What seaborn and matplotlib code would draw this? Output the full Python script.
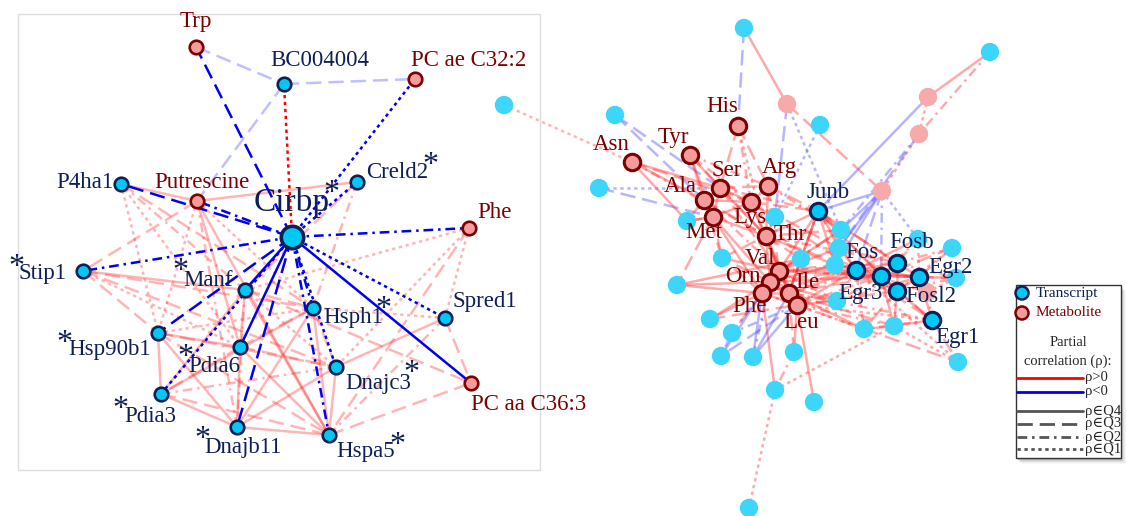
import matplotlib
matplotlib.use("Agg")
import matplotlib.pyplot as plt
import pandas as pd
import seaborn as sns
from matplotlib.patches import Rectangle, Circle

sns.set_theme(style="white")
plt.rcParams["font.family"] = ["Liberation Serif", "DejaVu Serif"]
plt.rcParams["lines.scale_dashes"] = False

# ---------------------------------------------------------------- nodes
# kind: T = transcript, M = metabolite ; lab = drawn with outline + name
node_name = [
    # Cirbp sub-network
    "Cirbp", "Trp", "BC004004", "PC ae C32:2", "P4ha1", "Putrescine", "Creld2",
    "Phe_L", "Stip1", "Manf", "Hsph1", "Spred1", "Hsp90b1", "Pdia6", "Dnajc3",
    "PC aa C36:3", "Pdia3", "Dnajb11", "Hspa5",
    # immediate-early gene / amino-acid sub-network
    "His", "Asn", "Tyr", "Ser", "Arg", "Ala", "Lys", "Met", "Thr", "Val", "Orn",
    "Ile", "Phe", "Leu", "Junb", "Fos", "Fosb", "Egr2", "Egr3", "Fosl2", "Egr1",
    "t1", "t2", "t3", "t4", "t5", "t6", "t7", "t8", "t9", "t10", "t11", "t12",
    "t13", "t14", "t15", "t16", "t17", "t18", "t19", "t20", "t21", "t22", "t23",
    "t24", "t25", "t26", "t27", "t28", "t29",
    "m1", "m2", "m3", "m4", "m5",
]
node_kind = (
    ["T", "M", "T", "M", "T", "M", "T", "M", "T", "T", "T", "T", "T", "T", "T",
     "M", "T", "T", "T"]
    + ["M"] * 14 + ["T"] * 7 + ["T"] * 29 + ["M"] * 5
)
node_lab = [True] * 40 + [False] * 34
layout_x = [
    292, 196, 284, 415, 121, 197, 357, 469, 83, 245, 313, 445, 158, 240, 336,
    471, 161, 237, 329,
    738, 632, 690, 720, 768, 704, 751, 713, 766, 779, 770, 789, 762, 797, 818,
    856, 897, 919, 881, 897, 932,
    744, 990, 504, 615, 820, 599, 687, 775, 841, 839, 918, 952, 722, 801, 835,
    956, 677, 837, 710, 732, 864, 894, 721, 753, 794, 958, 775, 814, 749,
    787, 928, 919, 882, 927,
]
layout_y = [
    237, 47, 84, 79, 184, 201, 182, 228, 271, 290, 308, 318, 333, 347, 367,
    383, 394, 427, 435,
    126, 162, 155, 188, 186, 200, 202, 217, 236, 271, 282, 293, 293, 305, 211,
    270, 263, 277, 276, 291, 320,
    28, 52, 105, 115, 125, 188, 221, 217, 230, 248, 239, 248, 258, 259, 265,
    278, 285, 301, 319, 333, 329, 326, 356, 357, 352, 362, 390, 402, 508,
    104, 97, 134, 191, 292,
]

# ---------------------------------------------------------------- edges
# sign: +1 / -1 partial correlation ; q: quartile of |rho| ; bold: highlighted
edge_src, edge_dst, edge_sign, edge_q, edge_bold = [], [], [], [], []


def add_edges(rows, bold=False):
    for s, d, sg, q in rows:
        edge_src.append(s)
        edge_dst.append(d)
        edge_sign.append(sg)
        edge_q.append(q)
        edge_bold.append(bold)


cirbp_edges = [
    ("Cirbp", "Trp", -1, 3), ("Cirbp", "BC004004", 1, 1),
    ("Cirbp", "PC ae C32:2", -1, 1), ("Cirbp", "Creld2", -1, 1),
    ("Cirbp", "Phe_L", -1, 2), ("Cirbp", "P4ha1", -1, 3),
    ("Cirbp", "Putrescine", -1, 2), ("Cirbp", "Stip1", -1, 2),
    ("Cirbp", "Manf", -1, 4), ("Cirbp", "Hsp90b1", -1, 3),
    ("Cirbp", "Pdia6", -1, 4), ("Cirbp", "Dnajb11", -1, 3),
    ("Cirbp", "Pdia3", -1, 1), ("Cirbp", "Hsph1", -1, 2),
    ("Cirbp", "Hspa5", -1, 2), ("Cirbp", "Dnajc3", -1, 1),
    ("Cirbp", "Spred1", -1, 1), ("Cirbp", "PC aa C36:3", -1, 4),
]
left_edges = [
    ("Trp", "BC004004", -1, 3), ("BC004004", "PC ae C32:2", -1, 3),
    ("BC004004", "Putrescine", -1, 3), ("Putrescine", "Creld2", 1, 4),
    ("P4ha1", "Putrescine", 1, 4), ("P4ha1", "Hsph1", 1, 3),
    ("P4ha1", "Pdia6", 1, 1), ("P4ha1", "Hsp90b1", 1, 1), ("P4ha1", "Manf", 1, 2),
    ("Putrescine", "Stip1", 1, 3), ("Putrescine", "Pdia6", 1, 4),
    ("Putrescine", "Hsp90b1", 1, 1), ("Putrescine", "Dnajb11", 1, 2),
    ("Putrescine", "Hspa5", 1, 4), ("Putrescine", "Hsph1", 1, 1),
    ("Creld2", "Manf", 1, 3), ("Creld2", "Hsph1", 1, 2),
    ("Phe_L", "Spred1", 1, 1), ("Phe_L", "Hspa5", 1, 3), ("Phe_L", "Dnajc3", 1, 1),
    ("Phe_L", "Manf", 1, 1),
    ("Stip1", "Hsp90b1", 1, 3), ("Stip1", "Hsph1", 1, 3), ("Stip1", "Manf", 1, 4),
    ("Stip1", "Dnajc3", 1, 3), ("Stip1", "Pdia6", 1, 1),
    ("Manf", "Pdia6", 1, 4), ("Manf", "Hsph1", 1, 3), ("Manf", "Hspa5", 1, 4),
    ("Manf", "Dnajb11", 1, 2), ("Manf", "Dnajc3", 1, 1), ("Manf", "PC aa C36:3", 1, 3),
    ("Manf", "Pdia3", 1, 4),
    ("Hsp90b1", "Pdia6", 1, 4), ("Hsp90b1", "Pdia3", 1, 4),
    ("Hsp90b1", "Dnajb11", 1, 4), ("Hsp90b1", "Hspa5", 1, 3),
    ("Hsp90b1", "Dnajc3", 1, 3), ("Hsp90b1", "Hsph1", 1, 1),
    ("Pdia6", "Dnajb11", 1, 4), ("Pdia6", "Hspa5", 1, 4), ("Pdia6", "Dnajc3", 1, 3),
    ("Pdia6", "Hsph1", 1, 3), ("Pdia6", "Pdia3", 1, 3),
    ("Pdia3", "Dnajb11", 1, 4), ("Pdia3", "Hspa5", 1, 3), ("Pdia3", "Dnajc3", 1, 2),
    ("Pdia3", "Hsph1", 1, 4),
    ("Dnajb11", "Hspa5", 1, 4), ("Dnajb11", "Dnajc3", 1, 4), ("Dnajb11", "Hsph1", 1, 4),
    ("Hspa5", "Dnajc3", 1, 4), ("Hspa5", "Spred1", 1, 2),
    ("Hspa5", "PC aa C36:3", 1, 3), ("Hspa5", "Hsph1", 1, 4),
    ("Dnajc3", "Spred1", 1, 4), ("Dnajc3", "Hsph1", 1, 3),
    ("Spred1", "PC aa C36:3", 1, 3), ("Spred1", "Hsph1", 1, 1),
]
right_edges = [
    ("t1", "His", -1, 3), ("t1", "m1", 1, 4), ("m1", "m4", 1, 3),
    ("m1", "t8", -1, 3), ("m1", "t9", -1, 1), ("t5", "t8", -1, 1),
    ("t2", "m2", 1, 4), ("t2", "m3", 1, 2), ("m2", "m3", 1, 1),
    ("m2", "Junb", -1, 4), ("m3", "m4", 1, 1), ("m3", "t9", -1, 2),
    ("m3", "t10", -1, 3), ("m4", "Junb", -1, 4), ("m4", "t9", -1, 4),
    ("m4", "t10", -1, 4), ("m4", "t15", -1, 4), ("m4", "Fos", -1, 3),
    ("m4", "t11", -1, 1), ("m4", "Egr3", -1, 2),
    ("t3", "Asn", 1, 1), ("t4", "Ala", -1, 3), ("t4", "Ser", -1, 3),
    ("t6", "Ser", -1, 1), ("t6", "Met", -1, 3),
    ("His", "Arg", 1, 3), ("His", "Ser", 1, 3), ("His", "Thr", 1, 1),
    ("His", "Lys", 1, 2),
    ("Asn", "t7", 1, 4), ("Asn", "Ser", 1, 4), ("Asn", "Ala", 1, 4),
    ("Asn", "Lys", 1, 3), ("Asn", "Thr", 1, 2),
    ("Tyr", "Ala", 1, 4), ("Tyr", "Ser", 1, 4), ("Tyr", "Met", 1, 4),
    ("Tyr", "Lys", 1, 3), ("Tyr", "Arg", 1, 2), ("Tyr", "Thr", 1, 3),
    ("Ser", "Ala", 1, 4), ("Ser", "Lys", 1, 4), ("Ser", "Arg", 1, 3),
    ("Ser", "Thr", 1, 4), ("Ser", "Met", 1, 4), ("Ser", "Val", 1, 3),
    ("Ser", "Junb", 1, 2), ("Ser", "t8", 1, 3),
    ("Arg", "Lys", 1, 4), ("Arg", "Thr", 1, 4), ("Arg", "Junb", 1, 3),
    ("Arg", "t9", 1, 2), ("Arg", "Val", 1, 3),
    ("Ala", "Met", 1, 4), ("Ala", "Lys", 1, 4), ("Ala", "Thr", 1, 3),
    ("Ala", "Val", 1, 2), ("Ala", "t13", 1, 3),
    ("Lys", "Thr", 1, 4), ("Lys", "Met", 1, 4), ("Lys", "Val", 1, 4),
    ("Lys", "Junb", 1, 3), ("Lys", "t14", 1, 2), ("Lys", "Fos", 1, 3),
    ("Met", "Thr", 1, 4), ("Met", "t13", 1, 3), ("Met", "t17", 1, 3),
    ("Met", "Orn", 1, 4), ("Met", "Phe", 1, 4), ("Met", "t7", 1, 4),
    ("Thr", "Val", 1, 4), ("Thr", "Orn", 1, 4), ("Thr", "Ile", 1, 4),
    ("Thr", "Junb", 1, 4), ("Thr", "t8", 1, 4), ("Thr", "t14", 1, 3),
    ("Thr", "Fos", 1, 3), ("Thr", "Leu", 1, 4),
    ("Val", "Orn", 1, 4), ("Val", "Ile", 1, 4), ("Val", "Phe", 1, 4),
    ("Val", "Leu", 1, 4), ("Val", "Junb", 1, 4), ("Val", "Fos", 1, 4),
    ("Val", "t14", 1, 4), ("Val", "t15", 1, 3), ("Val", "Egr3", 1, 3),
    ("Val", "t9", 1, 3),
    ("Orn", "Ile", 1, 4), ("Orn", "Phe", 1, 4), ("Orn", "Leu", 1, 4),
    ("Orn", "t17", 1, 4), ("Orn", "t13", 1, 3), ("Orn", "Fos", 1, 3),
    ("Orn", "t19", 1, 4),
    ("Ile", "Phe", 1, 4), ("Ile", "Leu", 1, 4), ("Ile", "Fos", 1, 4),
    ("Ile", "Egr3", 1, 3), ("Ile", "t18", 1, 3), ("Ile", "t14", 1, 3),
    ("Ile", "t25", 1, 3), ("Ile", "Junb", 1, 4), ("Ile", "Fosb", 1, 2),
    ("Phe", "Leu", 1, 4), ("Phe", "t19", 1, 4), ("Phe", "t20", 1, 3),
    ("Phe", "t27", 1, 4), ("Phe", "t23", -1, 4), ("Phe", "t24", -1, 4),
    ("Phe", "t17", 1, 4), ("Phe", "t13", 1, 3),
    ("Leu", "t25", 1, 4), ("Leu", "t28", 1, 4), ("Leu", "t18", 1, 4),
    ("Leu", "t21", 1, 3), ("Leu", "Fos", 1, 4), ("Leu", "Egr3", 1, 3),
    ("Leu", "t24", -1, 4), ("Leu", "t20", -1, 2), ("Leu", "t23", -1, 3),
    ("Ile", "t24", -1, 4), ("Orn", "t24", -1, 2),
    ("t20", "t23", -1, 3), ("t20", "Orn", -1, 2),
    ("Junb", "Fos", 1, 4), ("Junb", "Egr3", 1, 4), ("Junb", "Fosb", 1, 4),
    ("Junb", "t9", 1, 4), ("Junb", "t10", 1, 3), ("Junb", "t15", 1, 4),
    ("Junb", "Egr2", 1, 3), ("Junb", "Fosl2", 1, 3), ("Junb", "t14", 1, 4),
    ("Fos", "Egr3", 1, 4), ("Fos", "Fosb", 1, 4), ("Fos", "Egr2", 1, 4),
    ("Fos", "Fosl2", 1, 4), ("Fos", "Egr1", 1, 3), ("Fos", "t15", 1, 4),
    ("Fos", "t10", 1, 4), ("Fos", "t18", 1, 3), ("Fos", "t21", 1, 3),
    ("Egr3", "Fosb", 1, 4), ("Egr3", "Egr2", 1, 4), ("Egr3", "Fosl2", 1, 4),
    ("Egr3", "Egr1", 1, 3), ("Egr3", "t11", 1, 2), ("Egr3", "t18", 1, 3),
    ("Egr3", "t22", 1, 4),
    ("Fosb", "Egr2", 1, 4), ("Fosb", "Fosl2", 1, 4), ("Fosb", "t11", 1, 3),
    ("Fosb", "t12", 1, 2), ("Fosb", "t16", 1, 2),
    ("Egr2", "Fosl2", 1, 4), ("Egr2", "t16", 1, 4), ("Egr2", "t12", 1, 3),
    ("Egr2", "Egr1", 1, 3), ("Egr2", "t11", 1, 1),
    ("Fosl2", "Egr1", 1, 4), ("Fosl2", "t22", 1, 4), ("Fosl2", "t21", 1, 3),
    ("Fosl2", "t16", 1, 2),
    ("Egr1", "t22", 1, 4), ("Egr1", "t26", 1, 3), ("Egr1", "t21", 1, 2),
    ("t22", "t26", 1, 1), ("t21", "t22", 1, 4), ("t21", "t26", 1, 3),
    ("t27", "t29", 1, 1), ("t27", "t22", 1, 1), ("t25", "t27", 1, 2),
    ("t17", "t14", 1, 4), ("t13", "Thr", 1, 3), ("t13", "Val", 1, 4),
    ("t19", "Leu", 1, 3), ("t7", "Ala", 1, 4), ("t7", "Met", 1, 3),
    ("Egr1", "Leu", 1, 1), ("Egr1", "Ile", 1, 2), ("t22", "Ile", 1, 3),
    ("t21", "Phe", 1, 1), ("Fosl2", "Leu", 1, 3), ("Egr2", "Val", 1, 3),
    ("Fosb", "Thr", 1, 2), ("Egr3", "Orn", 1, 4), ("Fos", "Phe", 1, 3),
    ("Fosb", "Val", 1, 3), ("t15", "Orn", 1, 4), ("t10", "Val", 1, 4),
    ("t9", "Thr", 1, 3), ("t14", "Ile", 1, 4), ("t12", "Egr3", 1, 3),
    ("t26", "Fos", 1, 1), ("t16", "Egr3", 1, 3), ("t18", "Orn", 1, 4),
    ("m5", "Fos", 1, 3), ("m5", "Egr1", 1, 2), ("m5", "t16", 1, 1),
    ("t15", "Thr", 1, 4), ("t10", "Lys", 1, 3), ("t9", "Val", 1, 4),
    ("t18", "Val", 1, 3), ("t14", "Junb", 1, 2), ("t15", "Egr2", 1, 4),
    ("t10", "Fosb", 1, 3), ("t18", "Egr2", 1, 2), ("t21", "Ile", 1, 4),
    ("t22", "Leu", 1, 2), ("t12", "Fosl2", 1, 1), ("t11", "Fos", 1, 4),
]
add_edges(cirbp_edges, bold=True)
add_edges(left_edges)
add_edges(right_edges)

# ---------------------------------------------------------------- labels
label_text = [
    "Trp", "BC004004", "PC ae C32:2", "P4ha1", "Putrescine", "Creld2", "Phe",
    "Stip1", "Manf", "Hsph1", "Spred1", "Hsp90b1", "Pdia6", "Dnajc3",
    "PC aa C36:3", "Pdia3", "Dnajb11", "Hspa5",
    "His", "Asn", "Tyr", "Ser", "Arg", "Ala", "Lys", "Met", "Thr", "Val", "Orn",
    "Ile", "Phe", "Leu", "Junb", "Fos", "Fosb", "Egr2", "Egr3", "Fosl2", "Egr1",
]
label_kind = (["M", "T", "M", "T", "M", "T", "M"] + ["T"] * 7 + ["M"] + ["T"] * 3
              + ["M"] * 14 + ["T"] * 7)
label_x = [196, 320, 469, 85, 202, 366, 494, 43, 208, 353, 485, 110, 214, 378,
           471, 150, 243, 366,
           722, 611, 673, 727, 779, 680, 750, 704, 790, 760, 743, 807, 749, 801,
           828, 862, 912, 950, 860, 931, 957]
label_y = [22, 60, 60, 183, 182, 173, 213, 273, 281, 318, 302, 350, 366, 384,
           404, 416, 448, 452,
           107, 145, 137, 170, 168, 187, 217, 232, 235, 258, 276, 282, 307, 322,
           193, 253, 243, 267, 293, 297, 337]
label_ha = ["center"] * 5 + ["left"] + ["center"] * 8 + ["left"] + ["center"] * 24

# stars marking highlighted transcripts
star_x = [430, 331, 16, 180, 383, 64, 185, 411, 120, 202, 397]
star_y = [165, 193, 267, 272, 309, 343, 358, 374, 410, 439, 446]

# ---------------------------------------------------------------- styles
NAVY = "#0E1F55"
DARKRED = "#7D0000"
CYAN = "#00C8F5"
CYAN_LIGHT = "#3DD6FA"
PINK = "#F49C9C"
PINK_LIGHT = "#F8AAAA"
dash_styles = {4: None, 3: (11, 5), 2: (7, 3.5, 1.8, 3.5), 1: (2.4, 2.6)}

fig = plt.figure(figsize=(11.27, 5.16), dpi=100)
ax = fig.add_axes([0, 0, 1, 1])
ax.set_xlim(0, 1127)
ax.set_ylim(516, 0)
ax.axis("off")

# frame around the Cirbp sub-network
ax.add_patch(Rectangle((18, 14), 522, 456, fill=False, edgecolor="#DDDDDD",
                       lw=1.0, zorder=0))

pos = {n: (x, y) for n, x, y in zip(node_name, layout_x, layout_y)}

# edges: light ones first, highlighted on top
order = sorted(range(len(edge_src)), key=lambda i: edge_bold[i])
for i in order:
    (x0, y0), (x1, y1) = pos[edge_src[i]], pos[edge_dst[i]]
    if edge_bold[i]:
        col = "#FF0000" if edge_sign[i] > 0 else "#0000EE"
        alpha, z = 1.0, 2
    else:
        col = "#FF2020" if edge_sign[i] > 0 else "#4040FF"
        alpha = 0.33 if x0 < 545 else 0.38
        z = 1
    line, = ax.plot([x0, x1], [y0, y1], color=col, alpha=alpha, lw=1.8,
                    solid_capstyle="butt", zorder=z)
    if dash_styles[edge_q[i]] is not None:
        line.set_dashes(dash_styles[edge_q[i]])

# nodes
nodes = pd.DataFrame({"name": node_name, "kind": node_kind, "lab": node_lab,
                      "x": layout_x, "y": layout_y})
groups = [
    (nodes[(nodes.kind == "T") & ~nodes.lab], CYAN_LIGHT, "none", 175, 0),
    (nodes[(nodes.kind == "M") & ~nodes.lab], PINK_LIGHT, "none", 175, 0),
    (nodes[(nodes.kind == "T") & nodes.lab & (nodes.name != "Cirbp")
           & (nodes.x < 545)], CYAN, NAVY, 95, 1.9),
    (nodes[(nodes.kind == "M") & nodes.lab & (nodes.x < 545)], PINK, DARKRED, 95, 1.9),
    (nodes[(nodes.kind == "T") & nodes.lab & (nodes.x > 545)], CYAN, NAVY, 140, 2.2),
    (nodes[(nodes.kind == "M") & nodes.lab & (nodes.x > 545)], PINK, DARKRED, 140, 2.2),
    (nodes[nodes.name == "Cirbp"], CYAN, NAVY, 260, 2.6),
]
for sub, fc, ec, size, lw in groups:
    sns.scatterplot(data=sub, x="x", y="y", ax=ax, color=fc, edgecolor=ec,
                    s=size, linewidth=lw, legend=False, zorder=3)

# labels
for t, k, x, y, ha in zip(label_text, label_kind, label_x, label_y, label_ha):
    ax.text(x, y, t, ha=ha, va="center", fontsize=16.5,
            color=NAVY if k == "T" else DARKRED, zorder=5)
ax.text(292, 202, "Cirbp", ha="center", va="center", fontsize=24, color=NAVY, zorder=5)
for x, y in zip(star_x, star_y):
    ax.text(x, y, "*", ha="center", va="center", fontsize=23, color=NAVY, zorder=5)

# legend panel with soft shadow
lx, ly, lw_, lh = 1016, 285, 105, 173
for k, a in enumerate([0.10, 0.08, 0.06, 0.04, 0.03]):
    ax.add_patch(Rectangle((lx + 1 + k, ly + 2 + k), lw_, lh, facecolor="black",
                           edgecolor="none", alpha=a, zorder=6))
ax.add_patch(Rectangle((lx, ly), lw_, lh, facecolor="white", edgecolor="#333333",
                       lw=1.0, zorder=7))
ax.add_patch(Circle((1022, 293), 6.5, facecolor=CYAN, edgecolor=NAVY, lw=1.8, zorder=8))
ax.text(1036, 293, "Transcript", fontsize=11, color=NAVY, va="center", zorder=8)
ax.add_patch(Circle((1022, 313), 6.5, facecolor=PINK, edgecolor=DARKRED, lw=1.8, zorder=8))
ax.text(1036, 313, "Metabolite", fontsize=11, color=DARKRED, va="center", zorder=8)
ax.text(1068, 343, "Partial", fontsize=10.5, ha="center", va="center", zorder=8)
ax.text(1068, 361, "correlation (ρ):", fontsize=10.5, ha="center", va="center", zorder=8)
legend_rows = [("#FF0000", None, "ρ>0", 378), ("#0000EE", None, "ρ<0", 392),
               ("#555555", None, "ρ∈Q4", 411), ("#555555", 3, "ρ∈Q3", 424),
               ("#555555", 2, "ρ∈Q2", 437), ("#555555", 1, "ρ∈Q1", 449)]
for col, q, txt, yy in legend_rows:
    ln, = ax.plot([1017, 1083], [yy, yy], color=col, lw=2.0, zorder=8)
    if q is not None:
        ln.set_dashes(dash_styles[q])
    ax.text(1085, yy, txt, fontsize=10.5, va="center", zorder=8)

fig.savefig("out.png", dpi=100, facecolor="white")
